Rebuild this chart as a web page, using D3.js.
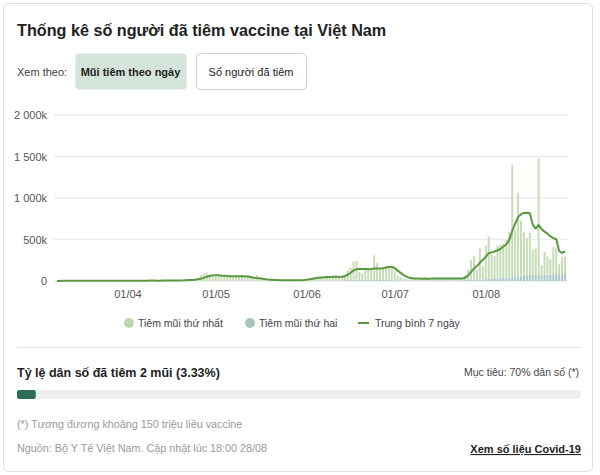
<!DOCTYPE html>
<html>
<head>
<meta charset="utf-8">
<script src="https://cdn.jsdelivr.net/npm/d3@7"></script>
<style>
  body { margin: 0; background: #fff; font-family: "Liberation Sans", Arial, sans-serif; }
</style>
</head>
<body>
<script>
const width = 600;
const height = 475;

// một cột mỗi ngày, từ 08/03/2021 đến 28/08/2021 (đơn vị: nghìn liều)
const startDate = new Date(2021, 2, 8);

const firstDose = [
  1, 2, 2, 3, 3, 2, 1, 3, 4, 4, 3, 3, 2, 2, 4, 5, 4, 3, 3, 2, 4, 5, 5, 4,                                   // 03
  4, 5, 3, 2, 4, 6, 6, 5, 4, 3, 3, 5, 6, 7, 6, 5, 8, 6, 10, 12, 14, 15, 18, 25, 45, 70, 85, 100, 80, 70,  // 04
  60, 55, 45, 65, 50, 55, 40, 60, 55, 65, 50, 45, 30, 25, 70, 20, 15, 12, 10, 10, 8, 6, 5, 5, 6, 4, 5, 6, 8, 10, 15, // 05
  20, 25, 30, 40, 45, 35, 50, 55, 45, 50, 60, 40, 45, 70, 120, 145, 220, 230, 100, 80, 130, 150, 120, 290, 200, 130, 150, 160, 170, 140, // 06
  110, 60, 40, 25, 20, 15, 20, 18, 22, 20, 25, 18, 20, 22, 25, 20, 18, 22, 25, 20, 22, 25, 20, 30, 60, 120, 240, 280, 125, 375, 160, // 07
  400, 505, 292, 265, 400, 400, 415, 450, 555, 1350, 575, 1010, 670, 535, 455, 508, 298, 320, 1400, 133, 278, 230, 180, 328, 310, 120, 205, 207 // 08
];

const secondDose = [
  0, 0, 0, 0, 0, 0, 0, 0, 0, 0, 0, 0, 0, 0, 0, 0, 0, 0, 0, 0, 0, 0, 0, 0,
  0, 0, 0, 0, 0, 0, 0, 0, 0, 0, 0, 0, 0, 0, 0, 0, 0, 0, 0, 0, 0, 0, 0, 0, 1, 1, 2, 2, 2, 2,
  2, 3, 3, 4, 5, 5, 4, 5, 6, 5, 6, 5, 4, 3, 4, 3, 3, 2, 2, 2, 2, 2, 2, 2, 2, 2, 2, 2, 2, 3, 3,
  3, 4, 5, 5, 6, 4, 6, 8, 6, 8, 8, 6, 6, 8, 10, 12, 15, 15, 10, 10, 12, 15, 12, 20, 15, 12, 12, 14, 14, 12,
  10, 8, 6, 5, 5, 5, 6, 5, 6, 5, 6, 5, 6, 6, 7, 6, 6, 7, 8, 7, 8, 8, 8, 10, 12, 15, 13, 20, 10, 20, 15,
  25, 30, 28, 35, 30, 40, 35, 45, 40, 50, 45, 50, 55, 60, 65, 70, 75, 70, 80, 60, 75, 70, 80, 85, 90, 80, 85, 88
];

const avg7 = [
  1, 1, 2, 2, 2, 2, 2, 3, 3, 3, 3, 3, 3, 3, 3, 3, 3, 3, 3, 3, 4, 4, 4, 4,
  4, 4, 4, 4, 4, 4, 4, 4, 5, 5, 4, 4, 5, 5, 5, 5, 6, 6, 7, 8, 10, 11, 12, 14, 20, 28, 38, 52, 61, 68,
  70, 68, 64, 62, 60, 58, 57, 56, 56, 57, 56, 55, 48, 40, 36, 33, 28, 22, 18, 15, 12, 11, 10, 9, 8, 8, 8, 8, 9, 10, 12,
  15, 20, 26, 32, 38, 42, 45, 47, 48, 50, 50, 48, 50, 58, 75, 100, 128, 142, 148, 146, 145, 143, 145, 150, 152, 150, 155, 162, 170, 172,
  155, 125, 98, 72, 52, 38, 32, 30, 29, 28, 29, 28, 28, 29, 30, 30, 29, 29, 30, 30, 30, 31, 30, 31, 40, 65, 110, 150, 180, 220, 255,
  290, 335, 345, 355, 370, 385, 415, 440, 495, 600, 690, 770, 805, 820, 822, 815, 680, 630, 675, 625, 595, 570, 540, 515, 505, 360, 340, 355
];

const yTicks = [0, 500, 1000, 1500, 2000];
const xTicks = ["2021-04-01", "2021-05-01", "2021-06-01", "2021-07-01", "2021-08-01"];
const legendLabels = ["Tiêm mũi thứ nhất", "Tiêm mũi thứ hai", "Trung bình 7 ngày"];
const coveragePct = 3.33;

const colFirst = "#c6dcb8";
const colSecond = "#a8c4c6";
const colLine = "#5a9842";

const days = firstDose.map(function(d, i){
  return { date: d3.timeDay.offset(startDate, i), first: d, second: secondDose[i], avg: avg7[i] };
});

const svg = d3.select("body").append("svg")
  .attr("width", width)
  .attr("height", height)
  .style("font-family", "'Liberation Sans', Arial, sans-serif");

// khung
svg.append("rect")
  .attr("x", 3.5).attr("y", 3.5)
  .attr("width", 589).attr("height", 468)
  .attr("rx", 5)
  .attr("fill", "#fff")
  .attr("stroke", "#dedede");

svg.append("text")
  .attr("x", 17).attr("y", 36)
  .attr("font-size", 16.2).attr("font-weight", "bold")
  .attr("fill", "#222")
  .text("Thống kê số người đã tiêm vaccine tại Việt Nam");

svg.append("text")
  .attr("x", 17).attr("y", 76)
  .attr("font-size", 11).attr("fill", "#444")
  .text("Xem theo:");

var buttons = [
  { label: "Mũi tiêm theo ngày", x: 75, w: 111, active: true },
  { label: "Số người đã tiêm", x: 196, w: 110, active: false }
];
var btn = svg.selectAll(".btn").data(buttons).enter().append("g").attr("class", "btn");
btn.append("rect")
  .attr("x", d => d.x + 0.5).attr("y", 53.5)
  .attr("width", d => d.w).attr("height", 36)
  .attr("rx", 4)
  .attr("fill", d => d.active ? "#d5e4da" : "#fff")
  .attr("stroke", d => d.active ? "none" : "#cfcfcf");
btn.append("text")
  .attr("x", d => d.x + d.w / 2).attr("y", 75.5)
  .attr("text-anchor", "middle")
  .attr("font-size", 11)
  .attr("font-weight", d => d.active ? "bold" : "normal")
  .attr("fill", "#222")
  .text(d => d.label);

// biểu đồ
const plot = { left: 54, right: 568, top: 115, bottom: 281 };

const x = d3.scaleTime()
  .domain([d3.timeDay.offset(startDate, -1), d3.timeDay.offset(startDate, days.length)])
  .range([plot.left, plot.right]);

const y = d3.scaleLinear()
  .domain([0, 2000])
  .range([plot.bottom, plot.top]);

svg.append("g").selectAll("line")
  .data(yTicks).enter().append("line")
  .attr("x1", plot.left).attr("x2", plot.right)
  .attr("y1", d => y(d)).attr("y2", d => y(d))
  .attr("stroke", "#ececec")
  .attr("stroke-width", 1.5);

const yAxis = svg.append("g")
  .attr("transform", "translate(" + plot.left + ",0)")
  .call(d3.axisLeft(y)
    .tickValues(yTicks)
    .tickSize(0)
    .tickPadding(7)
    .tickFormat(d => d === 0 ? "0" : d3.format(",")(d).replace(",", " ") + "k"));
yAxis.select(".domain").remove();
yAxis.selectAll("text").attr("font-size", 11).attr("fill", "#555")
  .style("font-family", "'Liberation Sans', Arial, sans-serif");

const xAxis = svg.append("g")
  .attr("transform", "translate(0," + plot.bottom + ")")
  .call(d3.axisBottom(x)
    .tickValues(xTicks.map(d => d3.timeParse("%Y-%m-%d")(d)))
    .tickSize(0)
    .tickPadding(9)
    .tickFormat(d3.timeFormat("%d/%m")));
xAxis.select(".domain").remove();
xAxis.selectAll("text").attr("font-size", 11).attr("fill", "#555")
  .style("font-family", "'Liberation Sans', Arial, sans-serif");

const barW = 2;

svg.append("g").selectAll("rect")
  .data(days).enter().append("rect")
  .attr("x", d => x(d.date) - barW / 2)
  .attr("width", barW)
  .attr("y", d => y(d.second))
  .attr("height", d => y(0) - y(d.second))
  .attr("fill", colSecond);

svg.append("g").selectAll("rect")
  .data(days).enter().append("rect")
  .attr("x", d => x(d.date) - barW / 2)
  .attr("width", barW)
  .attr("y", d => y(d.second + d.first))
  .attr("height", d => y(d.second) - y(d.second + d.first))
  .attr("fill", colFirst);

svg.append("path")
  .datum(days)
  .attr("fill", "none")
  .attr("stroke", colLine)
  .attr("stroke-width", 2)
  .attr("stroke-linejoin", "round")
  .attr("d", d3.line().x(d => x(d.date)).y(d => y(d.avg)));

// chú thích
const legendY = 323;
const legend = svg.append("g");
const legendPos = [129, 250, 358];
legendLabels.forEach(function(label, i){
  var lx = legendPos[i];
  if (i < 2) {
    legend.append("circle")
      .attr("cx", lx).attr("cy", legendY)
      .attr("r", 5)
      .attr("fill", i === 0 ? "#bdd6ae" : "#a6c3be");
    legend.append("text")
      .attr("x", lx + 9).attr("y", legendY + 4)
      .attr("font-size", 10.5).attr("fill", "#444")
      .text(label);
  } else {
    legend.append("line")
      .attr("x1", lx).attr("x2", lx + 11)
      .attr("y1", legendY).attr("y2", legendY)
      .attr("stroke", colLine).attr("stroke-width", 2);
    legend.append("text")
      .attr("x", lx + 17).attr("y", legendY + 4)
      .attr("font-size", 10.5).attr("fill", "#444")
      .text(label);
  }
});

svg.append("line")
  .attr("x1", 17).attr("x2", 581)
  .attr("y1", 347.5).attr("y2", 347.5)
  .attr("stroke", "#e6e6e6");

svg.append("text")
  .attr("x", 17).attr("y", 377)
  .attr("font-size", 12.5).attr("font-weight", "bold")
  .attr("fill", "#222")
  .text("Tỷ lệ dân số đã tiêm 2 mũi (" + coveragePct + "%)");

svg.append("text")
  .attr("x", 579).attr("y", 376)
  .attr("text-anchor", "end")
  .attr("font-size", 10.5).attr("fill", "#444")
  .text("Mục tiêu: 70% dân số (*)");

const prog = d3.scaleLinear().domain([0, 100]).range([0, 564]);
svg.append("rect")
  .attr("x", 17).attr("y", 390)
  .attr("width", prog(100)).attr("height", 9)
  .attr("rx", 4.5)
  .attr("fill", "#eeeeee");
svg.append("rect")
  .attr("x", 17).attr("y", 390)
  .attr("width", prog(coveragePct)).attr("height", 9)
  .attr("rx", 2)
  .attr("fill", "#2e6b58");

svg.append("text")
  .attr("x", 17).attr("y", 428)
  .attr("font-size", 10.8).attr("fill", "#999")
  .text("(*) Tương đương khoảng 150 triệu liều vaccine");

svg.append("text")
  .attr("x", 17).attr("y", 452)
  .attr("font-size", 10.8).attr("fill", "#999")
  .text("Nguồn: Bộ Y Tế Việt Nam. Cập nhật lúc 18:00 28/08");

svg.append("text")
  .attr("x", 581).attr("y", 453)
  .attr("text-anchor", "end")
  .attr("font-size", 11).attr("font-weight", "bold")
  .attr("fill", "#222")
  .attr("text-decoration", "underline")
  .text("Xem số liệu Covid-19");
</script>
</body>
</html>
